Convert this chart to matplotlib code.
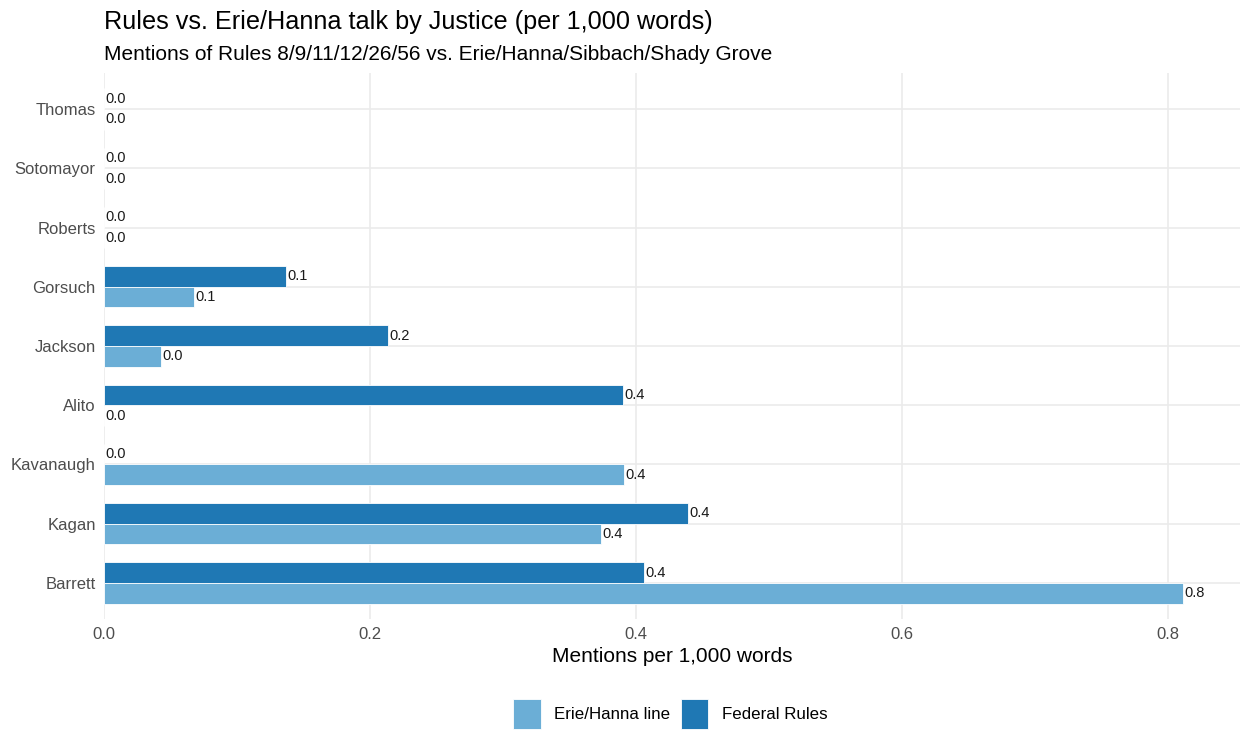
import numpy as np
import matplotlib.pyplot as plt

plt.rcParams['font.family'] = ['Liberation Sans', 'DejaVu Sans']

justices = ['Barrett', 'Kagan', 'Kavanaugh', 'Alito', 'Jackson', 'Gorsuch', 'Roberts', 'Sotomayor', 'Thomas']
erie = [0.811, 0.374, 0.391, 0.0, 0.043, 0.068, 0.0, 0.0, 0.0]
federal = [0.406, 0.439, 0.0, 0.390, 0.2135, 0.137, 0.0, 0.0, 0.0]

c_erie = '#6baed6'
c_fed = '#1f78b4'

fig = plt.figure(figsize=(12.48, 7.49), dpi=100)
ax = fig.add_axes([0.0833, 0.1742, 0.9103, 0.7277])

y = np.arange(len(justices))
h = 0.35
b1 = ax.barh(y - h / 2, erie, height=h, color=c_erie, edgecolor='white', linewidth=0.6,
             label='Erie/Hanna line', zorder=2)
b2 = ax.barh(y + h / 2, federal, height=h, color=c_fed, edgecolor='white', linewidth=0.6,
             label='Federal Rules', zorder=2)

for yy, v in zip(y - h / 2, erie):
    ax.text(v + 0.001, yy, f'{v:.1f}', va='center', ha='left', fontsize=10.5, color='#1a1a1a', zorder=3)
for yy, v in zip(y + h / 2, federal):
    ax.text(v + 0.001, yy, f'{v:.1f}', va='center', ha='left', fontsize=10.5, color='#1a1a1a', zorder=3)

ax.set_xlim(0, 0.811 * 1.053)
ax.set_ylim(-0.6, len(justices) - 0.4)
ax.set_yticks(y)
ax.set_yticklabels(justices)
ax.set_xticks([0, 0.2, 0.4, 0.6, 0.8])
ax.set_xticklabels(['0.0', '0.2', '0.4', '0.6', '0.8'])
ax.tick_params(axis='both', length=0, labelsize=12, labelcolor='#4d4d4d', pad=6)
ax.grid(True, color='#ebebeb', linewidth=1.2, zorder=0)
ax.set_axisbelow(True)
for s in ax.spines.values():
    s.set_visible(False)

ax.set_xlabel('Mentions per 1,000 words', fontsize=15, color='black', labelpad=4)

fig.text(0.0833, 0.971, 'Rules vs. Erie/Hanna talk by Justice (per 1,000 words)',
         fontsize=18.2, va='center', ha='left')
fig.text(0.0833, 0.927, 'Mentions of Rules 8/9/11/12/26/56 vs. Erie/Hanna/Sibbach/Shady Grove',
         fontsize=15, va='center', ha='left')

fig.legend(handles=[b1, b2], loc='center', bbox_to_anchor=(0.537, 0.047), ncol=2,
           frameon=False, fontsize=12.2, handlelength=1.65, handleheight=2.3,
           handletextpad=0.8, columnspacing=0.6)

fig.savefig('out.png', dpi=100)
